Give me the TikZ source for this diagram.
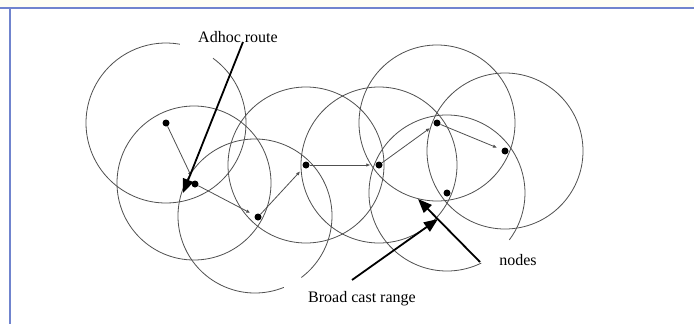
\documentclass[tikz,border=0pt]{standalone}
\usepackage{fontspec}
\setmainfont{Liberation Serif}
\usetikzlibrary{arrows.meta}
\definecolor{framecol}{RGB}{112,132,206}
\definecolor{rangecol}{RGB}{80,80,80}
\definecolor{paper}{RGB}{254,254,244}
\tikzset{
  bcrange/.style={draw=rangecol, line width=0.8pt},
  host/.style={circle, fill=black, inner sep=0pt, minimum size=7pt},
  hop/.style={draw=rangecol, line width=0.8pt, shorten >=5pt,
    -{Latex[length=4pt,width=3.5pt]}},
  callout/.style={draw=black, line width=1.8pt,
    -{Triangle[length=14pt,width=11pt]}},
  caption/.style={font=\fontsize{16}{19}\selectfont, inner sep=0pt}
}
\begin{document}
\begin{tikzpicture}[x=1pt,y=-1pt]
\useasboundingbox (0,0) rectangle (694,324);
\fill[white] (0,0) rectangle (694,324);
\fill[paper] (0,0) rectangle (694,7);
% frame lines
\draw[framecol, line width=2pt] (0,7.5) -- (694,7.5);
\draw[framecol, line width=2pt] (9.5,7.5) -- (9.5,324);

% mobile hosts
\node[host] (n1) at (166,123) {};
\node[host] (n2) at (195,184) {};
\node[host] (n3) at (258,217) {};
\node[host] (n4) at (306,165) {};
\node[host] (n5) at (379,165) {};
\node[host] (n6) at (437,123) {};
\node[host] (n7) at (505,151) {};
\node[host] (n8) at (447,193) {};

% broadcast ranges
\coordinate (cA) at (166,123);
\coordinate (cB) at (194,183);
\coordinate (cC) at (255,216);
\coordinate (cD) at (306,165);
\coordinate (cE) at (379,165);
\coordinate (cF) at (437,123);
\coordinate (cG) at (505,151);
\coordinate (cH) at (447,193);
\draw[bcrange] ([shift={(-54:80)}]cA) arc[start angle=-54, end angle=280, radius=80];
\draw[bcrange] (cB) circle[radius=77];
\draw[bcrange] ([shift={(68:77)}]cC) arc[start angle=68, end angle=413, radius=77];
\draw[bcrange] (cD) circle[radius=78];
\draw[bcrange] (cE) circle[radius=78];
\draw[bcrange] (cF) circle[radius=78];
\draw[bcrange] (cG) circle[radius=78];
\draw[bcrange] ([shift={(64:78)}]cH) arc[start angle=64, end angle=397, radius=78];

% route hops
\draw[hop] (n1) -- (n2);
\draw[hop] (n2) -- (n3);
\draw[hop] (n3) -- (n4);
\draw[hop] (n4) -- (n5);
\draw[hop] (n5) -- (n6);
\draw[hop] (n6) -- (n7);

% labels and callouts
\node[caption] (adhoc) at (238,37) {Adhoc route};
\node[caption] (bcast) at (362,299) {Broad cast range};
\node[caption] (nodes) at (518,260) {nodes};
\coordinate (adhocTail) at (243,42);
\coordinate (adhocTip) at (183,193);
\coordinate (bcastTail) at (352,280);
\coordinate (bcastTip) at (438,219);
\coordinate (nodesTail) at (480,262);
\coordinate (nodesTip) at (418,199);
\draw[callout] (adhocTail) -- (adhocTip);
\draw[callout] (bcastTail) -- (bcastTip);
\draw[callout] (nodesTail) -- (nodesTip);
\end{tikzpicture}
\end{document}
